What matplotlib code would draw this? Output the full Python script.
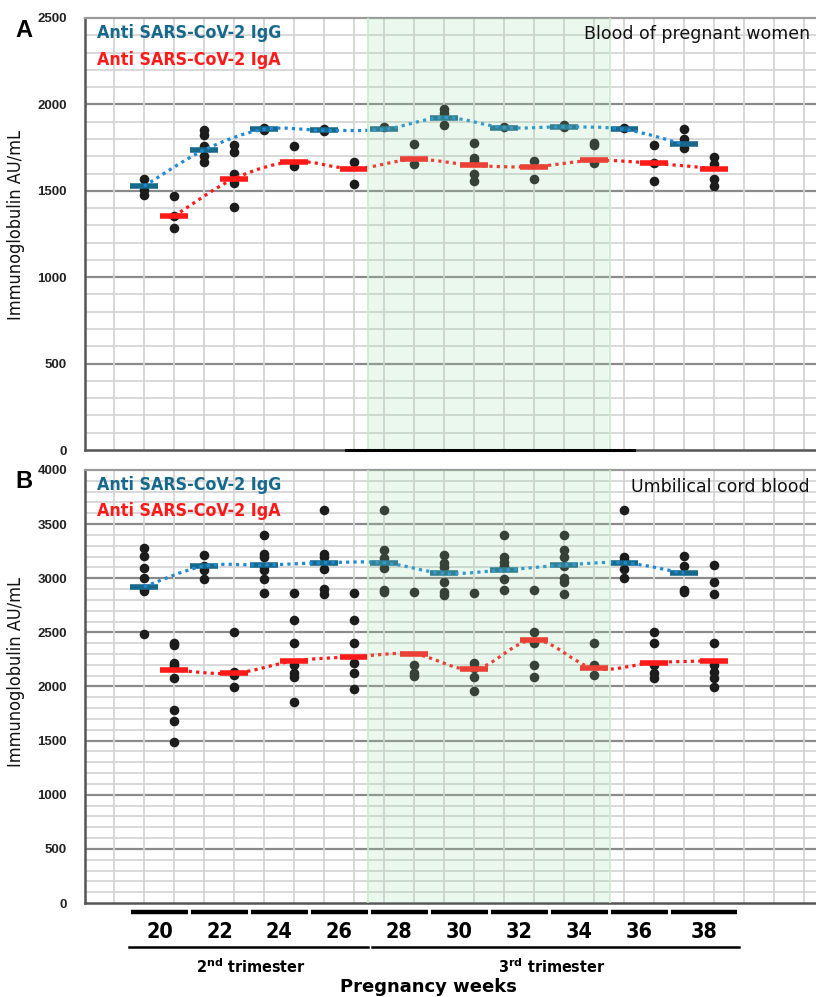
import numpy as np
import matplotlib
matplotlib.use("Agg")
import matplotlib.pyplot as plt
from matplotlib.path import Path
from matplotlib.patches import PathPatch
from matplotlib.transforms import blended_transform_factory

plt.rcParams['font.family'] = ['DejaVu Sans']

NARROW = ['Liberation Sans Narrow', 'DejaVu Sans']

weeks = [20, 22, 24, 26, 28, 30, 32, 34, 36, 38]

# Panel A - blood of pregnant women
igg_a_pts = [[1566, 1502, 1475], [1852, 1821, 1759, 1701, 1669], [1862, 1850],
             [1860, 1845], [1870], [1972, 1953, 1879], [1870], [1878, 1868],
             [1862], [1856, 1802, 1775, 1746]]
igg_a_mean = [1527, 1736, 1856, 1850, 1856, 1924, 1866, 1870, 1856, 1769]
iga_a_pts = [[1469, 1357, 1287], [1765, 1725, 1595, 1543, 1408], [1759, 1643],
             [1667, 1537], [1769, 1653], [1779, 1692, 1673, 1595, 1556],
             [1672, 1566], [1779, 1765, 1659], [1763, 1663, 1556],
             [1698, 1657, 1566, 1528]]
iga_a_mean = [1353, 1570, 1669, 1628, 1682, 1647, 1640, 1676, 1659, 1628]

# Panel B - umbilical cord blood
igg_b_pts = [[3277, 3209, 3098, 2999, 2900, 2880, 2485], [3215, 3113, 3076, 2993],
             [3400, 3221, 3200, 3107, 3080, 2990, 2861], [3630, 3224, 3196, 3082, 2898, 2855],
             [3630, 3261, 3187, 3092, 2891, 2870], [3215, 3138, 3107, 2968, 2876, 2845],
             [3400, 3193, 3153, 3110, 2990, 2891], [3400, 3261, 3193, 3113, 3000, 2968, 2852],
             [3630, 3200, 3170, 3090, 3000], [3206, 3113, 2891, 2870]]
igg_b_mean = [2922, 3113, 3122, 3143, 3143, 3046, 3076, 3122, 3143, 3046]
iga_b_pts = [[2400, 2380, 2220, 2200, 2180, 2081, 1783, 1684, 1484], [2506, 2137, 2106, 1998],
             [2861, 2614, 2399, 2199, 2122, 2085, 1860], [2861, 2614, 2399, 2214, 2122, 1974],
             [2876, 2199, 2122, 2100], [2861, 2214, 2168, 2090, 1961],
             [2891, 2506, 2399, 2199, 2090], [2399, 2199, 2106],
             [2506, 2399, 2199, 2122, 2076], [3122, 2968, 2854, 2399, 2199, 2130, 2076, 1998]]
iga_b_mean = [2152, 2122, 2236, 2275, 2300, 2159, 2430, 2168, 2220, 2238]

IGG_BAR = '#17698c'
IGG_LINE = '#1f8ad2'
IGA = '#ff1a1a'
DOT = '#1c1c1c'

igg_x = np.arange(len(weeks)) * 2 + 1
iga_x = igg_x + 1


def smooth_path(xs, ys):
    pts = np.column_stack([xs, ys]).astype(float)
    n = len(pts)
    verts = [pts[0]]
    codes = [Path.MOVETO]
    for i in range(n - 1):
        p0 = pts[max(i - 1, 0)]
        p1 = pts[i]
        p2 = pts[i + 1]
        p3 = pts[min(i + 2, n - 1)]
        verts += [p1 + (p2 - p0) / 6, p2 - (p3 - p1) / 6, p2]
        codes += [Path.CURVE4] * 3
    return Path(verts, codes)


def draw_panel(ax, ymax, g_pts, g_mean, a_pts, a_mean, label_y):
    ax.set_xlim(-0.97, 23.4)
    ax.set_ylim(0, ymax)
    for v in range(100, ymax, 100):
        if v % 500 == 0:
            ax.axhline(v, color='#8a8a8a', lw=1.6, zorder=1)
        else:
            ax.axhline(v, color='#d6d6d6', lw=1.3, zorder=1)
    for i in range(0, 24):
        ax.axvline(i, color='#d4d4d4', lw=1.3, zorder=1)

    for xs, pts in ((igg_x, g_pts), (iga_x, a_pts)):
        for x, vals in zip(xs, pts):
            ax.scatter([x] * len(vals), vals, s=48, color=DOT, lw=0, zorder=3)

    ax.hlines(g_mean, igg_x - 0.48, igg_x + 0.48, color=IGG_BAR, lw=4, zorder=4)
    ax.hlines(a_mean, iga_x - 0.48, iga_x + 0.48, color=IGA, lw=4, zorder=4)
    ax.add_patch(PathPatch(smooth_path(igg_x, g_mean), fill=False, ec=IGG_LINE,
                           lw=2.3, ls=(0, (1, 1.3)), zorder=5))
    ax.add_patch(PathPatch(smooth_path(iga_x, a_mean), fill=False, ec=IGA,
                           lw=2.3, ls=(0, (1, 1.3)), zorder=5))

    # third trimester shading
    ax.axvspan(8.47, 16.53, color='#9fdca5', alpha=0.2, lw=0, zorder=6)
    ax.axvline(8.47, color='#c9eccb', lw=1.2, zorder=6)
    ax.axvline(16.53, color='#c9eccb', lw=1.2, zorder=6)

    ax.set_yticks(range(0, ymax + 1, 500))
    ax.set_xticks([])
    ax.tick_params(axis='y', length=0, pad=13, labelsize=9.5, labelcolor='#222222')
    for lab in ax.get_yticklabels():
        lab.set_fontfamily(['Liberation Sans', 'DejaVu Sans'])
        lab.set_fontweight('bold')
    ax.spines['right'].set_visible(False)
    ax.spines['top'].set_color('#9a9a9a')
    ax.spines['top'].set_linewidth(1.6)
    ax.spines['left'].set_color('#555555')
    ax.spines['left'].set_linewidth(1.8)
    ax.spines['bottom'].set_color('#555555')
    ax.spines['bottom'].set_linewidth(1.8)
    ax.set_ylabel('Immunoglobulin AU/mL', fontsize=13, color='#111111',
                  fontstretch='condensed')
    ax.yaxis.set_label_coords(-0.082, label_y)


W, H = 816, 997
fig = plt.figure(figsize=(W / 100, H / 100), dpi=100)
axA = fig.add_axes([85 / W, 1 - 450 / H, (W - 85) / W, (450 - 18) / H])
axB = fig.add_axes([85 / W, 1 - 903 / H, (W - 85) / W, (903 - 470) / H])

draw_panel(axA, 2500, igg_a_pts, igg_a_mean, iga_a_pts, iga_a_mean, 0.521)
draw_panel(axB, 4000, igg_b_pts, igg_b_mean, iga_b_pts, iga_b_mean, 0.533)
axA.plot([7.73, 17.33], [0, 0], color='black', lw=2.2, clip_on=False, zorder=8)

# panel letters, legends and titles
for letter, yb, ig, ia, title, ty in (('A', 37, 33, 60, 'Blood of pregnant women', 34),
                                      ('B', 488, 485, 511, 'Umbilical cord blood', 487)):
    fig.text(15 / W, 1 - yb / H, letter, fontsize=17, weight='bold',
             family=['Liberation Sans', 'DejaVu Sans'], va='baseline')
    fig.text(97 / W, 1 - ig / H, 'Anti SARS-CoV-2 IgG', color=IGG_BAR, fontsize=12.8,
             weight='bold', family=NARROW, stretch='condensed', va='center')
    fig.text(97 / W, 1 - ia / H, 'Anti SARS-CoV-2 IgA', color=IGA, fontsize=12.8,
             weight='bold', family=NARROW, stretch='condensed', va='center')
    fig.text(810 / W, 1 - ty / H, title, fontsize=12.5, ha='right', va='center',
             color='#111111')

# week categories under panel B
tr = blended_transform_factory(axB.transData, axB.transAxes)
for k, w in enumerate(weeks):
    left = 2 * k + 0.57
    right = 2 * k + 2.45 if k < len(weeks) - 1 else 20.75
    axB.plot([left, right], [-0.021, -0.021], color='black', lw=3.2,
             transform=tr, clip_on=False, solid_capstyle='butt')
    axB.text((left + right) / 2, -0.068, str(w), transform=tr, ha='center', va='center',
             fontsize=15.5, weight='bold', family=NARROW, stretch='condensed')

axB.plot([0.5, 8.47], [-0.102, -0.102], color='black', lw=1.8, transform=tr, clip_on=False)
axB.plot([8.6, 20.83], [-0.102, -0.102], color='black', lw=1.8, transform=tr, clip_on=False)
for xc, num, sup in ((4.55, '2', 'nd'), (14.57, '3', 'rd')):
    axB.text(xc, -0.148, num + r'$^{\mathbf{' + sup + r'}}$ trimester', transform=tr,
             ha='center', va='center', fontsize=11.5, weight='bold', family=NARROW,
             stretch='condensed')
fig.text(428 / W, 1 - 987 / H, 'Pregnancy weeks', ha='center', va='center',
         fontsize=13, weight='bold')

fig.savefig('out.png', dpi=100)
